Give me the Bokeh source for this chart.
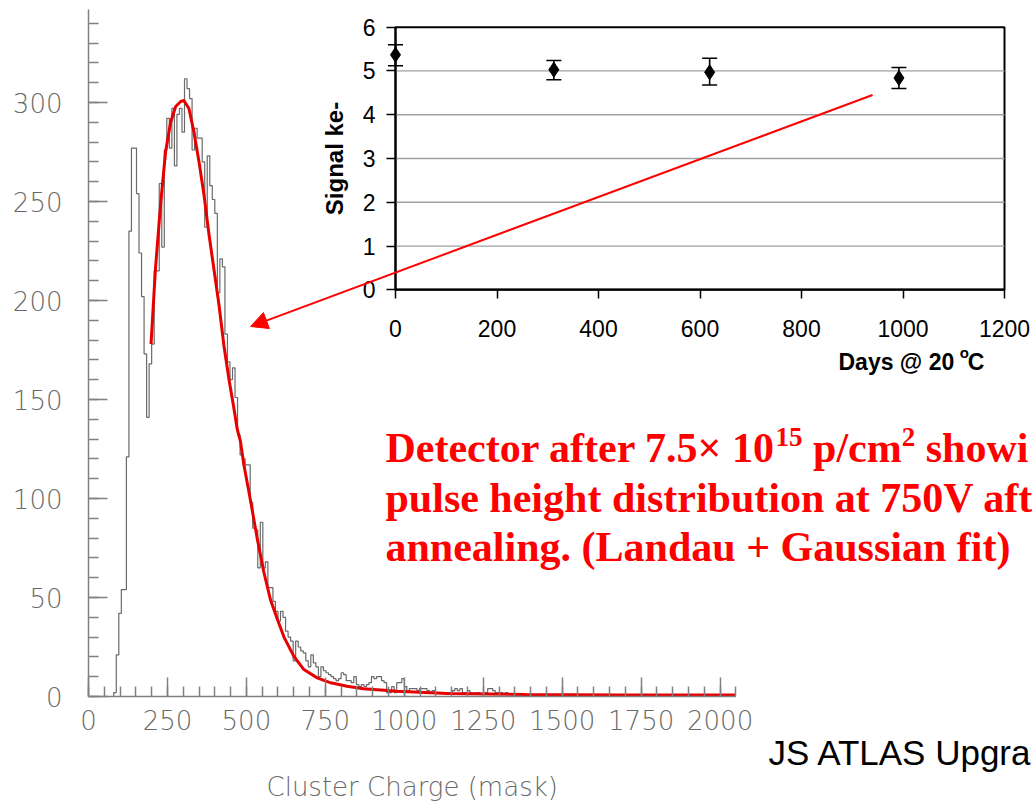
from bokeh.plotting import figure
from bokeh.models import (Range1d, LinearAxis, SingleIntervalTicker, FixedTicker,
                          Label, Arrow, NormalHead, ColumnDataSource)
from bokeh.embed import file_html
from bokeh.resources import INLINE

# ---------------- data ----------------
BIN_START = 80
BIN_WIDTH = 8
hist_counts = [
    2, 21, 42, 54, 54, 121, 235, 277, 277, 254, 224, 202, 173, 141, 168, 178,
    215, 215, 259, 227, 276, 292, 277, 297, 268, 294, 297, 285, 312, 307, 302, 276,
    287, 282, 282, 270, 237, 273, 258, 251, 244, 204, 221, 217, 183, 169, 160, 166,
    151, 132, 122, 120, 117, 117, 98, 85, 84, 65, 88, 65, 68, 55, 55, 48,
    43, 38, 43, 40, 33, 30, 28, 18, 28, 25, 23, 22, 18, 15, 21, 17,
    15, 10, 15, 13, 12, 11, 10, 9, 8, 9, 12, 11, 8, 8, 7, 10,
    6, 5, 6, 5, 6, 7, 10, 9, 10, 10, 8, 7, 2, 2, 5, 2,
    7, 7, 9, 5, 3, 4, 4, 4, 3, 4, 4, 4, 3, 2, 3, 2,
    2, 2, 2, 2, 2, 2, 3, 4, 3, 4, 2, 2, 3, 2, 1, 2,
    2, 1, 1, 2, 4, 4, 3, 2, 2, 2, 1, 2, 1, 1,
]
hist_tail = [
    1, 0, 1, 1, 0, 0, 1, 0, 1, 0, 0, 1, 0, 0, 1, 0, 0, 0, 1, 0, 0, 0,
    1, 0, 0, 0, 0, 1, 0, 0, 0, 1, 0, 0, 0, 0, 0, 1, 0, 0, 0, 0, 1, 0,
    0, 0, 0, 0, 1, 0, 0, 0, 0, 1, 0, 0, 0, 0, 0, 1, 0, 0, 0, 0, 0, 1,
    0, 0, 0, 0, 0, 0, 1, 0, 0, 0, 0, 0, 0, 1, 0, 0, 0, 0, 0, 0, 1, 0,
]
fit_charge = [198, 212, 228, 244, 260, 276, 292, 302, 318, 334, 350, 366, 381, 397,
              413, 429, 445, 460, 471, 481, 492, 513, 534, 555, 576, 598, 619, 650,
              682, 724, 767, 819, 871, 925, 977, 1136, 1383, 1680, 2050]
fit_counts = [178, 216, 248, 275, 290, 298, 300.5, 301, 297, 285, 270, 253, 234, 216,
              198, 177, 160, 146, 135, 129, 117, 99, 80, 63, 49, 39, 30, 20.4,
              13.6, 9.4, 6.9, 5.2, 3.9, 3.3, 2.7, 1.5, 1.0, 0.8, 0.7]
main_x_tick_step = 250
main_y_tick_step = 50
main_x_axis_end = 2050
main_y_axis_end = 347
main_x_label = "Cluster Charge (mask)"

days = [0, 312, 619, 992]
signal_ke = [5.37, 5.03, 4.97, 4.84]
signal_hi = [5.60, 5.24, 5.29, 5.08]
signal_lo = [5.12, 4.80, 4.68, 4.60]
inset_x_ticks = [0, 200, 400, 600, 800, 1000, 1200]
inset_y_ticks = [0, 1, 2, 3, 4, 5, 6]
inset_y_label = "Signal ke-"

caption_line1 = [("Detector after 7.5\u00d7 10", False), ("15", True), (" p/cm", False),
                 ("2", True), (" showi", False)]
caption_line2 = "pulse height distribution at 750V aft"
caption_line3 = "annealing. (Landau + Gaussian fit)"
footer_text = "JS ATLAS Upgra"

# ---------------- layout (pixels) ----------------
W, H = 1033, 803
ZERO_X, ZERO_Y = 88, 696      # pixel position of the main chart origin
PX_PER_X = 0.3158
PX_PER_Y = 1.98


def mx(px):
    return (px - ZERO_X) / PX_PER_X


def my(py):
    return (ZERO_Y - py) / PX_PER_Y


def base_y(baseline_px, size):
    # labels are anchored about a third of an em below the requested point
    return my(baseline_px - 0.345 * size)


IL, IR, IT, IB = 395, 1004, 26.7, 289.3
ix0, ix1 = inset_x_ticks[0], inset_x_ticks[-1]
iy0, iy1 = inset_y_ticks[0], inset_y_ticks[-1]
SX = (IR - IL) / (ix1 - ix0)
SY = (IB - IT) / (iy1 - iy0)

GRAY = "#6a6a6a"
AXG = "#808080"
RED = "#ff0000"
THIN = "DejaVu Sans Light, DejaVu Sans ExtraLight, Lato Light"

p = figure(width=W, height=H, x_range=Range1d(mx(0), mx(W)), y_range=Range1d(my(H), my(0)),
           output_backend="svg", toolbar_location=None, x_axis_location=None,
           y_axis_location=None, min_border=0)
p.extra_x_ranges = {"ix": Range1d(ix0 - IL / SX, ix1 + (W - IR) / SX)}
p.extra_y_ranges = {"iy": Range1d(iy0 - (H - IB) / SY, iy1 + IT / SY)}
p.outline_line_color = None
p.grid.visible = False
p.background_fill_color = "white"
p.border_fill_color = "white"

# main axes (placed at the data origin)
xa = LinearAxis(fixed_location=0, ticker=SingleIntervalTicker(interval=main_x_tick_step,
                                                               num_minor_ticks=5),
                bounds=(0, main_x_axis_end))
ya = LinearAxis(fixed_location=0, ticker=SingleIntervalTicker(interval=main_y_tick_step,
                                                               num_minor_ticks=5),
                bounds=(0, main_y_axis_end))
for ax in (xa, ya):
    ax.axis_line_color = AXG
    ax.axis_line_width = 1.5
    ax.major_tick_line_color = AXG
    ax.minor_tick_line_color = AXG
    ax.major_tick_line_width = 1.5
    ax.minor_tick_line_width = 1.5
    ax.major_tick_in = 19
    ax.major_tick_out = 0
    ax.minor_tick_in = 10
    ax.minor_tick_out = 0
    ax.major_label_text_font = THIN
    ax.major_label_text_font_size = "26px"
    ax.major_label_text_color = GRAY
xa.major_label_standoff = 13
ya.major_label_standoff = 26
p.add_layout(xa, "below")
p.add_layout(ya, "left")

# histogram
edges = [BIN_START + i * BIN_WIDTH for i in range(len(hist_counts) + len(hist_tail) + 1)]
counts = hist_counts + hist_tail
p.step(x=[BIN_START] + edges, y=[0] + counts + [counts[-1]], mode="after",
       line_color="#6a6a6a", line_width=1.2)
p.line(fit_charge, fit_counts, line_color="#e60000", line_width=3)

p.add_layout(Label(x=main_x_axis_end / 2, y=base_y(795, 26), text=main_x_label,
                   text_font=THIN, text_font_size="26px", text_color=GRAY,
                   text_align="center", text_baseline="alphabetic"))

# inset
p.quad(left=ix0, right=ix1, bottom=iy0, top=iy1, fill_color="white",
       line_color="black", line_width=2, x_range_name="ix", y_range_name="iy")
gy = inset_y_ticks[1:-1]
p.segment(x0=[ix0] * len(gy), x1=[ix1] * len(gy), y0=gy, y1=gy,
          line_color="#a0a0a0", line_width=1.3, x_range_name="ix", y_range_name="iy")

ixa = LinearAxis(x_range_name="ix", y_range_name="iy", fixed_location=iy0,
                 ticker=FixedTicker(ticks=inset_x_ticks, minor_ticks=[]), bounds=(ix0, ix1))
iya = LinearAxis(x_range_name="ix", y_range_name="iy", fixed_location=ix0,
                 ticker=FixedTicker(ticks=inset_y_ticks, minor_ticks=[]), bounds=(iy0, iy1))
for ax in (ixa, iya):
    ax.axis_line_color = "black"
    ax.axis_line_width = 2
    ax.major_tick_line_color = "black"
    ax.major_tick_line_width = 1.5
    ax.major_tick_in = 0
    ax.major_tick_out = 9
    ax.minor_tick_line_color = None
    ax.major_label_text_font = "Liberation Sans"
    ax.major_label_text_font_size = "23px"
    ax.major_label_text_color = "black"
ixa.major_label_standoff = 21
iya.major_label_standoff = 11
iya.axis_label = inset_y_label
iya.axis_label_text_font = "Liberation Sans"
iya.axis_label_text_font_style = "bold"
iya.axis_label_text_font_size = "24px"
iya.axis_label_text_color = "black"
iya.axis_label_standoff = 12
p.add_layout(ixa, "below")
p.add_layout(iya, "left")

src = ColumnDataSource(dict(days=days, sig=signal_ke, hi=signal_hi, lo=signal_lo))
p.segment(x0="days", x1="days", y0="lo", y1="hi", source=src, line_color="black",
          line_width=1.6, x_range_name="ix", y_range_name="iy")
for col in ("hi", "lo"):
    p.scatter("days", col, source=src, marker="dash", size=15, line_color="black",
              line_width=1.6, x_range_name="ix", y_range_name="iy")
p.scatter("days", "sig", source=src, marker="diamond", size=15, color="black",
          x_range_name="ix", y_range_name="iy")

# x label of inset with superscript degree mark
ARIAL_B = {'D': 722, 'a': 556, 'y': 556, 's': 556, ' ': 278, '@': 975, '2': 556, '0': 556}
lab = "Days @ 20"
lx = 838
p.add_layout(Label(x=mx(lx), y=base_y(369, 23), text=lab, text_font="Liberation Sans",
                   text_font_style="bold", text_font_size="23px", text_color="black",
                   text_baseline="alphabetic"))
lw = sum(ARIAL_B[c] for c in lab + " ") / 1000 * 23
p.add_layout(Label(x=mx(lx + lw - 1), y=base_y(357, 15), text="o", text_font="Liberation Sans",
                   text_font_style="bold", text_font_size="15px", text_color="black",
                   text_baseline="alphabetic"))
p.add_layout(Label(x=mx(lx + lw + 7), y=base_y(369, 23), text="C", text_font="Liberation Sans",
                   text_font_style="bold", text_font_size="23px", text_color="black",
                   text_baseline="alphabetic"))

# arrow from inset to histogram
tail_px = IL + (940 - ix0) * SX
tail_py = IB - (4.45 - iy0) * SY
p.add_layout(Arrow(end=NormalHead(size=17, fill_color=RED, line_color=RED, line_width=1),
                   x_start=mx(tail_px), y_start=my(tail_py), x_end=mx(250), y_end=my(326),
                   line_color=RED, line_width=2))

# caption in red serif bold
TB = {' ': 250, 'D': 722, 'e': 444, 't': 333, 'c': 444, 'o': 500, 'r': 444, 'a': 500,
      'f': 333, '7': 500, '.': 250, '5': 500, '\u00d7': 570, '1': 500, '0': 500,
      'p': 556, '/': 278, 'm': 833, 's': 389, 'h': 556, 'w': 722, 'i': 278, 'n': 556,
      'g': 500, '2': 500}
CAP_SIZE = 42
SUP_SIZE = 27
cx = 385
for txt, sup in caption_line1:
    size = SUP_SIZE if sup else CAP_SIZE
    base = 446 if sup else 462
    lead = len(txt) - len(txt.lstrip(" "))
    cx += lead * TB[' '] / 1000 * size
    body = txt.lstrip(" ")
    p.add_layout(Label(x=mx(cx), y=base_y(base, size), text=body, text_font="Liberation Serif",
                       text_font_style="bold", text_font_size=f"{size}px", text_color=RED,
                       text_baseline="alphabetic"))
    cx += sum(TB.get(c, 500) for c in body) / 1000 * size
for txt, base in ((caption_line2, 512), (caption_line3, 561)):
    p.add_layout(Label(x=mx(385), y=base_y(base, CAP_SIZE), text=txt,
                       text_font="Liberation Serif", text_font_style="bold",
                       text_font_size=f"{CAP_SIZE}px", text_color=RED,
                       text_baseline="alphabetic"))

p.add_layout(Label(x=mx(768), y=base_y(764, 35), text=footer_text, text_font="Liberation Sans",
                   text_font_size="35px", text_color="black", text_baseline="alphabetic"))

open("out.html", "w").write(file_html(p, INLINE))
